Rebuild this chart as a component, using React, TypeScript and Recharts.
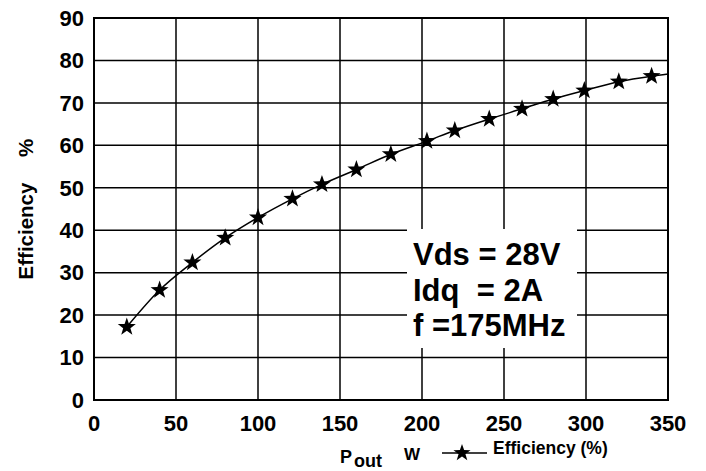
import React from "react";
import { LineChart, Line, XAxis, YAxis, CartesianGrid, ReferenceArea } from "recharts";

// Pout (W) and efficiency (%)
const powerOut = [20, 40, 60, 80, 100, 121, 139, 160, 181, 203, 220, 241, 261, 280, 299, 320, 340];
const efficiency = [17.2, 25.9, 32.4, 38.2, 43.0, 47.4, 50.8, 54.3, 57.9, 61.0, 63.5, 66.2, 68.6, 70.9, 72.9, 75.0, 76.3];
// the fitted curve runs on to the right edge
const curveEndX = 350;
const curveEndY = 76.8;

const xTicks = [0, 50, 100, 150, 200, 250, 300, 350];
const yTicks = [0, 10, 20, 30, 40, 50, 60, 70, 80, 90];

const points = powerOut.map((p, i) => ({ p, eff: efficiency[i] }));
const curve = [...points, { p: curveEndX, eff: curveEndY }];

const FONT = "'Liberation Sans', Arial, sans-serif";

function starPath(cx: number, cy: number, R: number, r: number) {
  const pts: string[] = [];
  for (let i = 0; i < 10; i++) {
    const a = ((-90 + i * 36) * Math.PI) / 180;
    const rad = i % 2 === 0 ? R : r;
    pts.push(`${(cx + rad * Math.cos(a)).toFixed(2)},${(cy + rad * Math.sin(a)).toFixed(2)}`);
  }
  return pts.join(" ");
}

const StarDot = (props: any) => {
  const { cx, cy } = props;
  if (cx == null || cy == null) return null;
  return <polygon points={starPath(cx, cy, 9.5, 3.8)} fill="#000" />;
};

// absolutely placed bold text; lineHeight = fontSize so baseline sits ~0.85em below top
const abs = (style: React.CSSProperties): React.CSSProperties => ({
  position: "absolute",
  fontFamily: FONT,
  fontWeight: "bold",
  color: "#000",
  whiteSpace: "pre",
  ...style,
});

export default function App() {
  return (
    <div style={{ position: "absolute", left: 0, top: 0, width: 706, height: 471, background: "#fff" }}>
      <LineChart width={706} height={471} margin={{ top: 18, right: 38, left: 0, bottom: 0 }}>
        <CartesianGrid stroke="#000" strokeWidth={1.5} />
        <XAxis
          dataKey="p"
          type="number"
          domain={[0, 350]}
          ticks={xTicks}
          height={71}
          axisLine={false}
          tickLine={false}
          tickSize={0}
          tickMargin={15}
          tick={{ fill: "#000", fontSize: 22, fontWeight: "bold", fontFamily: FONT }}
        />
        <YAxis
          type="number"
          domain={[0, 90]}
          ticks={yTicks}
          width={94}
          axisLine={false}
          tickLine={false}
          tickSize={0}
          tickMargin={10}
          tick={{ fill: "#000", fontSize: 22, fontWeight: "bold", fontFamily: FONT }}
        />
        <ReferenceArea x1={0} x2={350} y1={0} y2={90} fill="none" stroke="#000" strokeWidth={2} ifOverflow="visible" />
        <Line
          data={curve}
          dataKey="eff"
          type="monotone"
          stroke="#000"
          strokeWidth={1.5}
          dot={false}
          isAnimationActive={false}
        />
        <Line
          data={points}
          dataKey="eff"
          stroke="none"
          dot={<StarDot />}
          activeDot={false}
          isAnimationActive={false}
        />
      </LineChart>

      {/* condition box */}
      <div style={abs({ left: 407, top: 229, width: 170, height: 119, background: "#fff" })}>
        <div style={abs({ left: 6, top: 10, fontSize: 31, lineHeight: "31px" })}>Vds = 28V</div>
        <div style={abs({ left: 6, top: 46, fontSize: 31, lineHeight: "31px" })}>Idq  = 2A</div>
        <div style={abs({ left: 6, top: 81, fontSize: 31, lineHeight: "31px" })}>f =175MHz</div>
      </div>

      {/* y axis label */}
      <div style={abs({ left: 25, top: 231, fontSize: 20.5, lineHeight: "21px", transform: "translate(-50%, -50%) rotate(-90deg)" })}>
        Efficiency
      </div>
      <div style={abs({ left: 25, top: 148, fontSize: 20.5, lineHeight: "21px", transform: "translate(-50%, -50%) rotate(-90deg)" })}>
        %
      </div>

      {/* x axis label */}
      <div style={abs({ left: 340, top: 448, fontSize: 18, lineHeight: "18px" })}>P</div>
      <div style={abs({ left: 354, top: 452, fontSize: 18, lineHeight: "18px" })}>out</div>
      <div style={abs({ left: 404, top: 446, fontSize: 17, lineHeight: "17px" })}>W</div>

      {/* legend */}
      <svg style={{ position: "absolute", left: 436, top: 443 }} width={56} height={20}>
        <line x1={6} y1={10} x2={51} y2={10} stroke="#000" strokeWidth={1.5} />
        <polygon points={starPath(26, 10, 9, 3.6)} fill="#000" />
      </svg>
      <div style={abs({ left: 493, top: 440, fontSize: 17.5, lineHeight: "17.5px" })}>Efficiency (%)</div>
    </div>
  );
}
